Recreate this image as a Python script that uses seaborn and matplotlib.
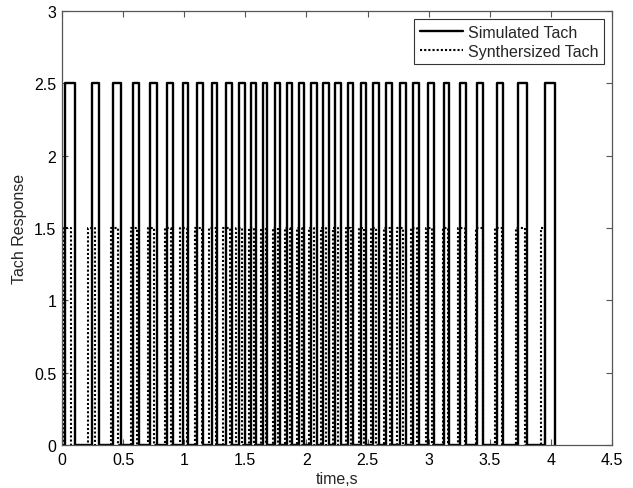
import numpy as np
import pandas as pd
import matplotlib
matplotlib.use("Agg")
import matplotlib.pyplot as plt
import seaborn as sns

# Pulse edges (s) of the simulated tach signal, amplitude 2.5
sim_rise = [0.025, 0.245, 0.417, 0.581, 0.720, 0.859, 0.990, 1.105, 1.227, 1.342,
            1.448, 1.547, 1.645, 1.743, 1.841, 1.939, 2.038, 2.136, 2.234, 2.340,
            2.447, 2.545, 2.651, 2.766, 2.872, 2.995, 3.126, 3.257, 3.396, 3.560,
            3.731, 3.952]
sim_fall = [0.106, 0.303, 0.483, 0.630, 0.777, 0.908, 1.031, 1.154, 1.268, 1.391,
            1.497, 1.587, 1.677, 1.784, 1.882, 1.980, 2.087, 2.185, 2.283, 2.381,
            2.488, 2.594, 2.700, 2.815, 2.921, 3.044, 3.167, 3.306, 3.445, 3.609,
            3.805, 4.034]
sim_level = 2.5

# Pulse edges (s) of the synthesized tach signal, amplitude 1.5
syn_rise = [0.008, 0.213, 0.401, 0.565, 0.704, 0.843, 0.966, 1.088, 1.203, 1.318,
            1.424, 1.530, 1.628, 1.727, 1.825, 1.923, 2.021, 2.119, 2.218, 2.324,
            2.430, 2.528, 2.635, 2.741, 2.855, 2.978, 3.117, 3.240, 3.388, 3.543,
            3.715, 3.920]
syn_fall = [0.074, 0.270, 0.458, 0.614, 0.753, 0.892, 1.023, 1.145, 1.260, 1.375,
            1.473, 1.571, 1.669, 1.767, 1.866, 1.964, 2.062, 2.160, 2.258, 2.365,
            2.471, 2.569, 2.684, 2.790, 2.904, 3.027, 3.158, 3.298, 3.445, 3.600,
            3.788, 3.953]
syn_level = 1.5

x_ticks = [0, 0.5, 1, 1.5, 2, 2.5, 3, 3.5, 4, 4.5]
y_ticks = [0, 0.5, 1, 1.5, 2, 2.5, 3]


def square_wave(rise, fall, level, name):
    t, v = [0.0], [0.0]
    for r, f in zip(rise, fall):
        t += [r, r, f, f]
        v += [0.0, level, level, 0.0]
    return pd.DataFrame({"time": t, "value": v, "signal": name})


df_sim = square_wave(sim_rise, sim_fall, sim_level, "Simulated Tach")
df_syn = square_wave(syn_rise, syn_fall, syn_level, "Synthersized Tach")

sns.set_style("ticks")
plt.rcParams["font.family"] = ["Liberation Sans", "DejaVu Sans"]
fs = 11.5

fig = plt.figure(figsize=(6.33, 4.89), dpi=100)
ax = fig.add_axes([62 / 633, 1 - 446 / 489, 550 / 633, 434 / 489])

sns.lineplot(data=df_sim, x="time", y="value", sort=False, estimator=None,
             color="black", lw=1.7, ax=ax, label="Simulated Tach")
sns.lineplot(data=df_syn, x="time", y="value", sort=False, estimator=None,
             color="black", lw=1.5, ls=(0, (1, 1)), ax=ax,
             label="Synthersized Tach")

ax.set_xlim(0, 4.5)
ax.set_ylim(0, 3)
ax.set_xticks(x_ticks)
ax.set_xticklabels([f"{v:g}" for v in x_ticks])
ax.set_yticks(y_ticks)
ax.set_yticklabels([f"{v:g}" for v in y_ticks])
ax.tick_params(direction="in", top=True, right=True, length=4,
               color="#555555", labelsize=fs, labelcolor="black")
ax.tick_params(axis="x", pad=5)
ax.tick_params(axis="y", pad=4)
for sp in ax.spines.values():
    sp.set_visible(True)
    sp.set_color("#555555")
    sp.set_linewidth(0.9)

ax.set_xlabel("time,s", fontsize=fs, labelpad=3)
ax.set_ylabel("Tach Response", fontsize=fs, labelpad=5)

leg = ax.legend(loc="upper right", frameon=True, fancybox=False,
                edgecolor="black", fontsize=fs, handlelength=2.7,
                handletextpad=0.3, borderpad=0.35, labelspacing=0.25,
                borderaxespad=0.5)
leg.get_frame().set_linewidth(0.8)

fig.savefig("out.png", dpi=100)
